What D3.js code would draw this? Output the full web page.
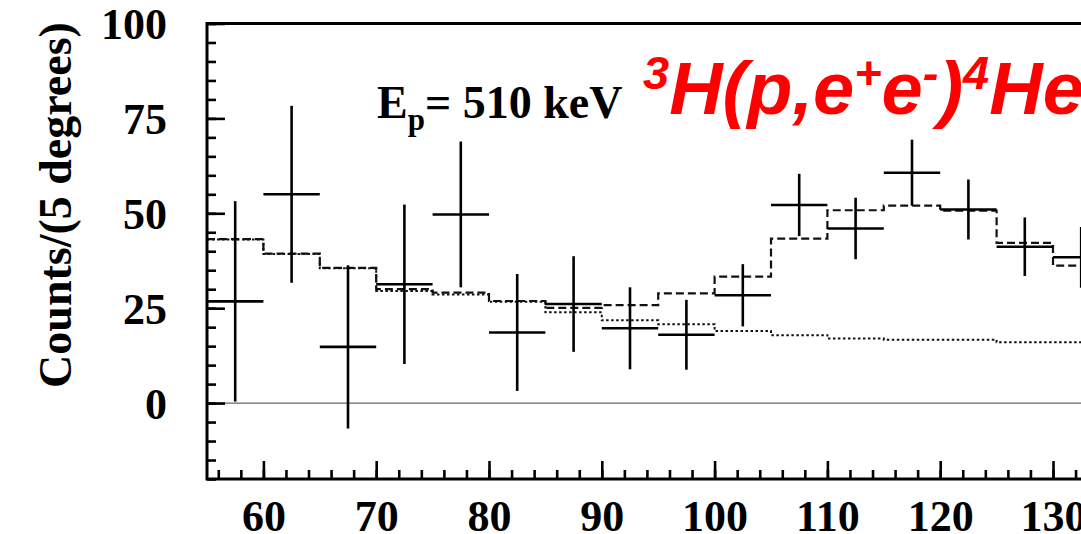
<!DOCTYPE html>
<html>
<head>
<meta charset="utf-8">
<script src="https://cdn.jsdelivr.net/npm/d3@7"></script>
<style>
  html, body { margin: 0; padding: 0; background: #ffffff; overflow: hidden; }
  svg { display: block; }
</style>
</head>
<body>
<svg id="chart" width="1081" height="534"></svg>
<script>
// Angular-correlation spectrum, 5-degree bins
const binEdges = [55, 60, 65, 70, 75, 80, 85, 90, 95, 100, 105, 110, 115, 120, 125, 130, 135];
const binCenters = [57.5, 62.5, 67.5, 72.5, 77.5, 82.5, 87.5, 92.5, 97.5, 102.5, 107.5, 112.5, 117.5, 122.5, 127.5, 132.5];

// Measured counts and their statistical errors
const counts = [26.8, 55.0, 14.8, 31.3, 49.7, 18.6, 26.1, 19.7, 18.0, 28.4, 52.2, 46.0, 60.7, 51.0, 41.2, 38.4];
const countErrors = [26.4, 23.3, 21.5, 21.0, 19.2, 15.4, 12.6, 10.8, 9.2, 8.2, 8.2, 8.1, 8.7, 7.9, 7.7, 8.0];

// Fit: total (background + anomaly) and background alone
const totalFit = [43.2, 39.4, 35.6, 30.0, 29.1, 26.9, 25.1, 25.8, 28.9, 33.3, 43.3, 50.8, 52.0, 50.7, 42.2, 36.2];
const backgroundFit = [43.1, 39.3, 35.5, 29.5, 28.6, 26.7, 23.9, 21.8, 20.8, 19.0, 17.9, 17.0, 16.7, 16.7, 16.0, 16.0];

// Axis ticks
const xMajorTicks = [60, 70, 80, 90, 100, 110, 120, 130, 140];
const xMinorTicks = d3.range(56, 141, 2);
const yMajorTicks = [0, 25, 50, 75, 100];
const yMinorTicks = d3.range(-20, 101, 5);

const svg = d3.select("#chart");

const plotLeft = 207, plotTop = 23.5, plotBottom = 479;
const pxPerDeg = (1053 - 207) / 75;

const x = d3.scaleLinear().domain([55, 140]).range([plotLeft, plotLeft + 85 * pxPerDeg]);
const y = d3.scaleLinear().domain([-20, 100]).range([plotBottom, plotTop]);

const serif = "'Liberation Serif', 'Times New Roman', Times, serif";
const sans = "'Liberation Sans', Arial, Helvetica, sans-serif";

// Zero reference line
svg.append("line")
  .attr("x1", x(55)).attr("x2", x(140))
  .attr("y1", y(0)).attr("y2", y(0))
  .attr("stroke", "#666").attr("stroke-width", 1.4);

// Step histograms
function stepPoints(values) {
  const pts = values.map((v, i) => [binEdges[i], v]);
  pts.push([binEdges[values.length], values[values.length - 1]]);
  return pts;
}
const stepLine = d3.line()
  .x(d => x(d[0])).y(d => y(d[1]))
  .curve(d3.curveStepAfter);

svg.append("path")
  .attr("d", stepLine(stepPoints(backgroundFit)))
  .attr("fill", "none").attr("stroke", "#111")
  .attr("stroke-width", 2).attr("stroke-dasharray", "2.5,2.5");

svg.append("path")
  .attr("d", stepLine(stepPoints(totalFit)))
  .attr("fill", "none").attr("stroke", "#111")
  .attr("stroke-width", 2.2).attr("stroke-dasharray", "8,4");

// Data points with error bars
const points = svg.append("g").attr("stroke", "#000").attr("stroke-width", 2.6);
binCenters.forEach((c, i) => {
  points.append("line")
    .attr("x1", x(c - 2.5)).attr("x2", x(c + 2.5))
    .attr("y1", y(counts[i])).attr("y2", y(counts[i]));
  points.append("line")
    .attr("x1", x(c)).attr("x2", x(c))
    .attr("y1", y(counts[i] + countErrors[i])).attr("y2", y(counts[i] - countErrors[i]));
});

// Axes with inward ticks
const xAxisMinor = d3.axisBottom(x).tickValues(xMinorTicks).tickSize(-9).tickFormat("");
const xAxisMajor = d3.axisBottom(x).tickValues(xMajorTicks).tickSize(-18).tickPadding(21).tickFormat(d3.format("d"));
const yAxisMinor = d3.axisLeft(y).tickValues(yMinorTicks).tickSize(-9).tickFormat("");
const yAxisMajor = d3.axisLeft(y).tickValues(yMajorTicks).tickSize(-18).tickPadding(40).tickFormat(d3.format("d"));

function styleAxis(g) {
  g.select(".domain").remove();
  g.selectAll(".tick line").attr("stroke", "#000").attr("stroke-width", 2.6);
  g.selectAll(".tick text")
    .attr("fill", "#000")
    .style("font-family", serif)
    .style("font-weight", "bold")
    .style("font-size", "44px");
}

svg.append("g").attr("transform", `translate(0,${plotBottom})`).call(xAxisMinor).call(styleAxis);
svg.append("g").attr("transform", `translate(0,${plotBottom})`).call(xAxisMajor).call(styleAxis);
svg.append("g").attr("transform", `translate(${plotLeft},0)`).call(yAxisMinor).call(styleAxis);
svg.append("g").attr("transform", `translate(${plotLeft},0)`).call(yAxisMajor).call(styleAxis)
  .selectAll(".tick text").attr("dy", "0.34em");

// Frame
svg.append("path")
  .attr("d", `M${x(140)},${plotTop}H${plotLeft}V${plotBottom}H${x(140)}`)
  .attr("fill", "none").attr("stroke", "#000").attr("stroke-width", 3);

// Axis title
svg.append("text")
  .attr("transform", `translate(71,205) rotate(-90)`)
  .attr("text-anchor", "middle")
  .style("font-family", serif).style("font-weight", "bold").style("font-size", "46px")
  .text("Counts/(5 degrees)");

// Beam energy label
const ep = svg.append("text")
  .attr("x", 377).attr("y", 118)
  .style("font-family", serif).style("font-weight", "bold").style("font-size", "46px");
ep.append("tspan").text("E");
ep.append("tspan").attr("dy", 12).style("font-size", "31px").text("p");
ep.append("tspan").attr("dy", -12).text("= 510 keV");

// Reaction label
const title = svg.append("text")
  .attr("x", 643).attr("y", 114)
  .attr("fill", "#ff0000")
  .style("font-family", sans).style("font-weight", "bold").style("font-style", "italic")
  .style("font-size", "74px");
const parts = [["3", true], ["H(p,e", false], ["+", true], ["e", false], ["-", true], [")", false], ["4", true], ["He", false]];
let raised = false;
parts.forEach(([t, sup]) => {
  const ts = title.append("tspan").text(t);
  if (sup) {
    ts.style("font-size", "47px");
    if (!raised) ts.attr("dy", -25);
    raised = true;
  } else {
    if (raised) ts.attr("dy", 25);
    raised = false;
  }
});
</script>
</body>
</html>
